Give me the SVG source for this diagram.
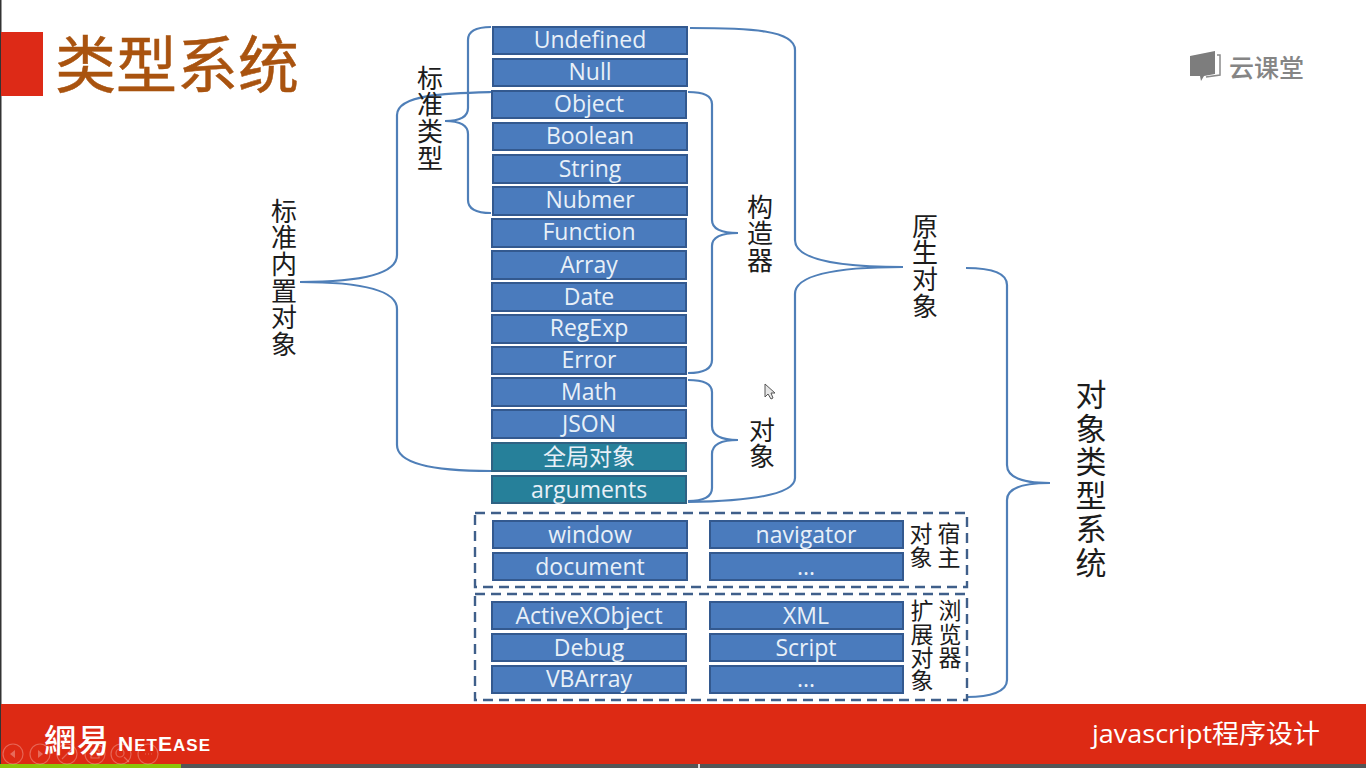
<svg xmlns="http://www.w3.org/2000/svg" width="1366" height="768" viewBox="0 0 1366 768">
<style>
.b{fill:#4a7bbd;stroke:#33598f;stroke-width:2}
.t{fill:#26809a;stroke:#2f6283;stroke-width:2}
text{font-family:"Open Sans","Noto Sans CJK SC",sans-serif}
.l{fill:#e8f0f8;font-size:23px;text-anchor:middle}
.c,.x,.s{fill:#1c1c1c;font-family:"Noto Sans CJK SC",sans-serif;writing-mode:vertical-rl}
.c{font-size:26px;letter-spacing:.6px}
.x{font-size:31px;letter-spacing:2.5px}
.s{font-size:23px;letter-spacing:.4px}
.br{fill:none;stroke:#4f7fb8;stroke-width:2.2}
.d{fill:none;stroke:#3f5f8a;stroke-width:2.4;stroke-dasharray:10 6}
.i{fill:none;stroke:#fff;stroke-opacity:.28;stroke-width:1.2}
</style>
<rect width="1366" height="768" fill="#fff"/>
<rect x="0" y="0" width="1.5" height="768" fill="#333"/>
<g id="header">
<rect x="1" y="32" width="42" height="64" fill="#dd2a17"/>
<text x="55" y="88" font-size="62" fill="#a9530f" stroke="#a9530f" stroke-width=".5" style="font-family:'Noto Sans CJK SC',sans-serif" textLength="244" lengthAdjust="spacingAndGlyphs">类型系统</text>
</g>
<g id="brand">
<path d="M1190 56L1215 51V74L1204 76L1201 81L1200 76H1190Z" fill="#7d7d7d"/>
<path d="M1217 55H1220V75L1206 77" fill="none" stroke="#8a8a8a" stroke-width="1.5"/>
<text x="1229" y="77" font-size="25" fill="#858585" style="font-family:'Noto Sans CJK SC',sans-serif;font-weight:500">云课堂</text>
</g>
<g id="connectors">
<path class="br" d="M491 27Q468 27 468 40V108Q468 121 445 121Q468 121 468 134V200Q468 213 491 213"/>
<path class="br" d="M491 92C450 93 397 94 397 115V255Q397 282 300 282Q397 282 397 309V445C397 465 440 471 491 471"/>
<path class="br" d="M688 92Q712 92 712 104V220Q712 233 738 233Q712 233 712 246V360Q712 373 688 373"/>
<path class="br" d="M688 380Q712 380 712 392V426Q712 440 738 440Q712 440 712 454V488Q712 501 688 501"/>
<path class="br" d="M690 28C750 28 795 30 795 50V240Q795 267 903 267Q795 267 795 294V478C795 495 750 501 688 502"/>
<path class="br" d="M966 268Q1007 268 1007 285V465Q1007 483 1050 483Q1007 483 1007 500V680C1007 692 990 697 967 697"/>
</g>
<g id="boxes">
<g id="n-undefined"><rect class="b" x="493" y="27" width="194" height="27"/><text class="l" x="590" y="48">Undefined</text></g>
<g id="n-null"><rect class="b" x="493" y="59" width="194" height="27"/><text class="l" x="590" y="80">Null</text></g>
<g id="n-object"><rect class="b" x="492" y="91" width="194" height="27"/><text class="l" x="589" y="112">Object</text></g>
<g id="n-boolean"><rect class="b" x="493" y="123" width="194" height="27"/><text class="l" x="590" y="144">Boolean</text></g>
<g id="n-string"><rect class="b" x="493" y="155" width="194" height="28"/><text class="l" x="590" y="177">String</text></g>
<g id="n-nubmer"><rect class="b" x="493" y="187" width="194" height="28"/><text class="l" x="590" y="208">Nubmer</text></g>
<g id="n-function"><rect class="b" x="492" y="219" width="194" height="28"/><text class="l" x="589" y="240">Function</text></g>
<g id="n-array"><rect class="b" x="492" y="251" width="194" height="28"/><text class="l" x="589" y="273">Array</text></g>
<g id="n-date"><rect class="b" x="492" y="283" width="194" height="28"/><text class="l" x="589" y="305">Date</text></g>
<g id="n-regexp"><rect class="b" x="492" y="315" width="194" height="28"/><text class="l" x="589" y="336">RegExp</text></g>
<g id="n-error"><rect class="b" x="492" y="347" width="194" height="27"/><text class="l" x="589" y="368">Error</text></g>
<g id="n-math"><rect class="b" x="492" y="378" width="194" height="28"/><text class="l" x="589" y="400">Math</text></g>
<g id="n-json"><rect class="b" x="492" y="410" width="194" height="28"/><text class="l" x="589" y="432">JSON</text></g>
<g id="n-global"><rect class="t" x="492" y="443" width="194" height="28"/><text class="l" x="589" y="465" style="font-family:'Noto Sans CJK SC',sans-serif">全局对象</text></g>
<g id="n-arguments"><rect class="t" x="492" y="476" width="194" height="27"/><text class="l" x="589" y="498">arguments</text></g>
<g id="n-window"><rect class="b" x="493" y="521" width="194" height="27"/><text class="l" x="590" y="543">window</text></g>
<g id="n-document"><rect class="b" x="493" y="553" width="194" height="27"/><text class="l" x="590" y="575">document</text></g>
<g id="n-navigator"><rect class="b" x="710" y="521" width="193" height="27"/><text class="l" x="806" y="543">navigator</text></g>
<g id="n-dots1"><rect class="b" x="710" y="553" width="193" height="27"/><text class="l" x="806" y="575">...</text></g>
<g id="n-activex"><rect class="b" x="492" y="602" width="194" height="27"/><text class="l" x="589" y="624">ActiveXObject</text></g>
<g id="n-debug"><rect class="b" x="492" y="634" width="194" height="27"/><text class="l" x="589" y="656">Debug</text></g>
<g id="n-vbarray"><rect class="b" x="492" y="666" width="194" height="27"/><text class="l" x="589" y="687">VBArray</text></g>
<g id="n-xml"><rect class="b" x="710" y="602" width="193" height="27"/><text class="l" x="806" y="624">XML</text></g>
<g id="n-script"><rect class="b" x="710" y="634" width="193" height="27"/><text class="l" x="806" y="656">Script</text></g>
<g id="n-dots2"><rect class="b" x="710" y="666" width="193" height="27"/><text class="l" x="806" y="687">...</text></g>
</g>
<g id="groups">
<rect class="d" x="475" y="513" width="492" height="74"/>
<rect class="d" x="475" y="594" width="492" height="106"/>
</g>
<g id="labels">
<text id="l-std" class="c" x="430" y="65">标准类型</text>
<text id="l-builtin" class="c" x="284" y="198">标准内置对象</text>
<text id="l-ctor" class="c" x="760" y="194">构造器</text>
<text id="l-obj" class="c" x="762" y="417">对象</text>
<text id="l-native" class="c" x="925" y="213">原生对象</text>
<text id="l-system" class="x" x="1091" y="379">对象类型系统</text>
<text id="l-host1" class="s" x="921" y="522">对象</text>
<text id="l-host2" class="s" x="949" y="522">宿主</text>
<text id="l-ext1" class="s" x="922" y="599">扩展对象</text>
<text id="l-ext2" class="s" x="950" y="599">浏览器</text>
</g>
<path id="cursor" d="M765 384V397L768 394L771 399L773 398L771 393H775Z" fill="#e6e6e6" stroke="#555"/>
<g id="footer">
<rect x="1" y="704" width="1365" height="60" fill="#dd2a14"/>
<rect x="0" y="764" width="1366" height="4" fill="#555"/>
<rect x="0" y="764" width="181" height="4" fill="#8cc40a"/>
<rect x="698" y="764" width="2" height="4" fill="#ddd"/>
<text x="44" y="752" font-size="32" fill="#fff" style="font-family:'Noto Sans CJK SC',sans-serif;font-weight:500" letter-spacing="1">網易</text>
<text x="118" y="751" font-size="21" fill="#fff" font-weight="700" style="font-family:'Liberation Sans',sans-serif" textLength="92" lengthAdjust="spacing">N<tspan font-size="17">ET</tspan>E<tspan font-size="17">ASE</tspan></text>
<text x="1092" y="743" font-size="26" fill="#fff" textLength="228" lengthAdjust="spacingAndGlyphs">javascript程序设计</text>
<g id="controls">
<circle class="i" cx="13" cy="754" r="10"/><circle class="i" cx="40" cy="754" r="10"/><circle class="i" cx="67" cy="754" r="10"/><circle class="i" cx="95" cy="754" r="10"/><circle class="i" cx="121" cy="754" r="10"/><circle class="i" cx="148" cy="754" r="10"/>
<path d="M15 750L10 754L15 758ZM38 750L43 754L38 758Z" fill="#fff" fill-opacity=".3"/>
<path class="i" d="M62 759L72 749M91 750H99V758H91ZM124 757L129 762M145 754H146M148 754H149M151 754H152"/>
<circle class="i" cx="120" cy="753" r="4"/>
</g>
</g>
</svg>
